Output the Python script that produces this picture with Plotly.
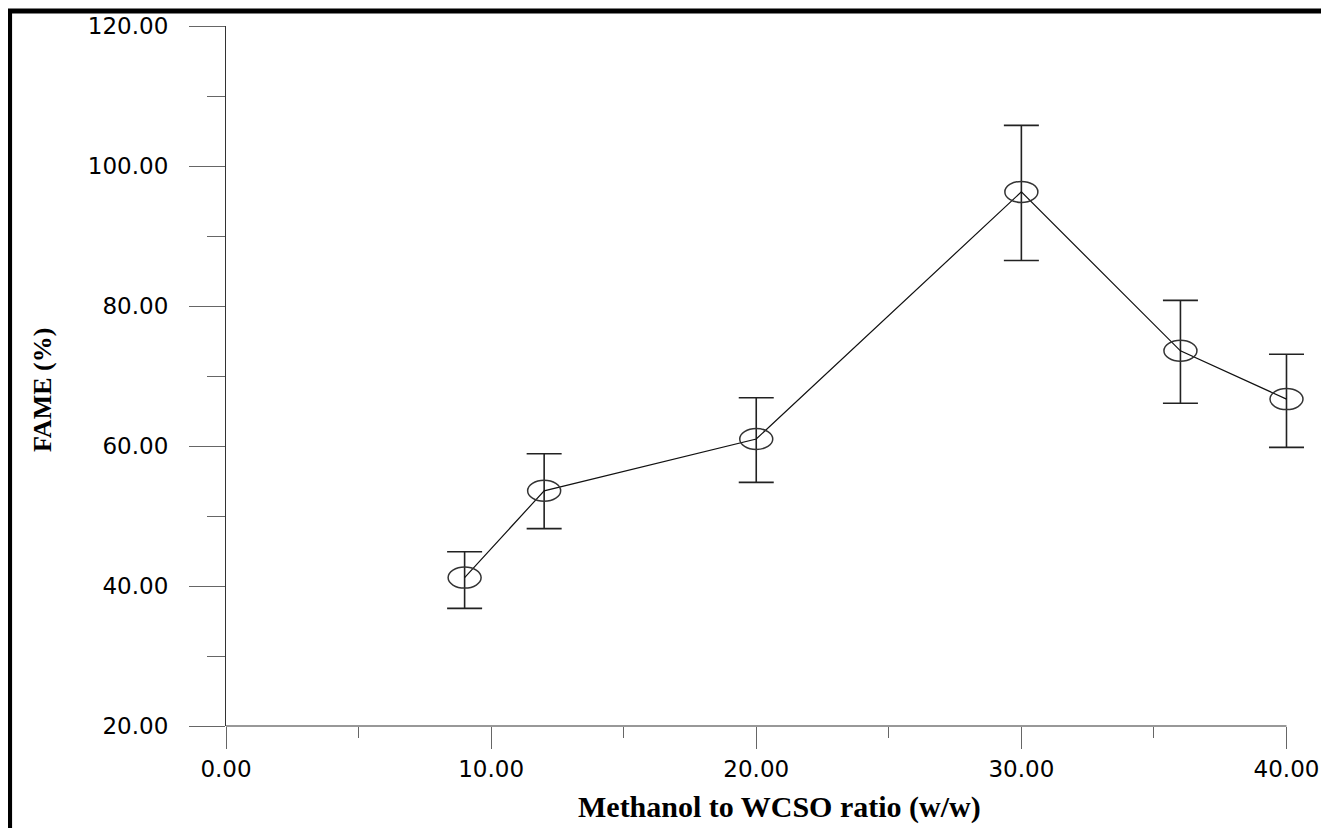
import plotly.graph_objects as go

ratio = [9, 12, 20, 30, 36, 40]
fame = [41.2, 53.6, 61.0, 96.3, 73.6, 66.7]
err_plus = [3.7, 5.3, 5.9, 9.5, 7.2, 6.4]
err_minus = [4.4, 5.4, 6.2, 9.8, 7.5, 6.9]

x_ticks = [0, 10, 20, 30, 40]
y_ticks = [20, 40, 60, 80, 100, 120]
x_axis_end = 40
x_range = [0, 41]          # a little room past 40 so the last error-bar cap is not clipped
y_range = [20, 120]

fig = go.Figure()
fig.add_trace(go.Scatter(
    x=ratio, y=fame, mode="lines",
    line=dict(color="#111111", width=1.2),
    error_y=dict(type="data", symmetric=False, array=err_plus, arrayminus=err_minus,
                 color="#222222", thickness=1.6, width=17.5),
    cliponaxis=False,
    showlegend=False, hoverinfo="x+y",
))

# open elliptical markers anchored at each data point (positions via axis ranges)
for xv, yv in zip(ratio, fame):
    fx = (xv - x_range[0]) / (x_range[1] - x_range[0])
    fy = (yv - y_range[0]) / (y_range[1] - y_range[0])
    fig.add_shape(type="circle", xref="paper", yref="paper",
                  xsizemode="pixel", ysizemode="pixel",
                  xanchor=fx, yanchor=fy,
                  x0=-16.5, x1=16.5, y0=-10.5, y1=10.5,
                  line=dict(color="#333333", width=1.5), fillcolor="rgba(0,0,0,0)")

# x axis line, stopping at 40
fig.add_shape(type="line", xref="x", yref="paper", x0=0, x1=x_axis_end, y0=0, y1=0,
              line=dict(color="#333333", width=1.2))

# outer black frame
fig.add_shape(type="rect", xref="paper", yref="paper",
              x0=-0.1991, x1=1.0115, y0=-0.2, y1=1.0214,
              line=dict(color="black", width=5), fillcolor="rgba(0,0,0,0)")

fig.add_annotation(text="<b>Methanol to WCSO ratio (w/w)</b>", xref="paper", yref="paper",
                   x=0.5094, y=-0.1157, xanchor="center", yanchor="middle", showarrow=False,
                   font=dict(size=30, family="Liberation Serif, Times New Roman, serif", color="black"))
fig.add_annotation(text="<b>FAME (%)</b>", xref="paper", yref="paper",
                   x=-0.1692, y=0.48, xanchor="center", yanchor="middle", showarrow=False,
                   textangle=-90,
                   font=dict(size=26, family="Liberation Serif, Times New Roman, serif", color="black"))

fig.update_layout(
    width=1321, height=820,
    margin=dict(l=218, r=15.5, t=18, b=102),
    paper_bgcolor="white", plot_bgcolor="white",
    font=dict(family="DejaVu Sans, Arial, sans-serif", color="black"),
)
fig.update_xaxes(
    range=x_range, tickvals=x_ticks, tickformat=".2f",
    showline=False,
    ticks="outside", ticklen=22, tickcolor="#666666", tickwidth=1.2,
    minor=dict(tickvals=[5, 15, 25, 35], ticks="outside", ticklen=11, tickcolor="#666666", tickwidth=1.2),
    showgrid=False, zeroline=False, automargin=False,
    tickfont=dict(size=23, family="DejaVu Sans, Arial, sans-serif", color="black"),
)
fig.update_yaxes(
    range=y_range, tickvals=y_ticks, tickformat=".2f",
    showline=True, linecolor="#333333", linewidth=1.2,
    ticks="outside", ticklen=36, tickcolor="#666666", tickwidth=1.2,
    minor=dict(dtick=10, ticks="outside", ticklen=18, tickcolor="#666666", tickwidth=1.2),
    showgrid=False, zeroline=False, automargin=False,
    ticklabelstandoff=16,
    tickfont=dict(size=23, family="DejaVu Sans, Arial, sans-serif", color="black"),
)

fig.write_html("out.html")
